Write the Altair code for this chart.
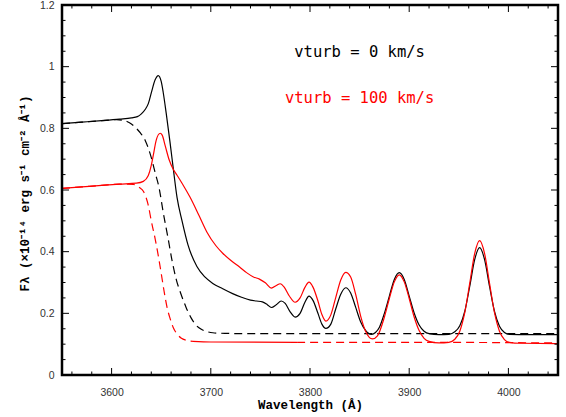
import altair as alt
import pandas as pd

# --- spectra -------------------------------------------------------------
# vturb = 0 km/s, full model (solid black)
WAVE_V0 = [3550, 3570, 3590, 3608, 3620, 3626, 3630, 3634, 3637, 3640, 3644, 3647,
           3650, 3652, 3655, 3659, 3662, 3666, 3671, 3677, 3686, 3694, 3702, 3712,
           3722, 3731, 3740, 3746, 3752, 3757, 3761, 3766, 3771, 3775, 3780, 3785,
           3790, 3795, 3799, 3803, 3808, 3812, 3816, 3821, 3826, 3831, 3836, 3841,
           3846, 3851, 3856, 3862, 3866, 3870, 3875, 3880, 3885, 3890, 3895, 3900,
           3905, 3910, 3915, 3920, 3930, 3940, 3946, 3951, 3956, 3961, 3966, 3971,
           3976, 3981, 3986, 3991, 3996, 4001, 4020, 4050]
FLUX_V0 = [0.815, 0.820, 0.825, 0.830, 0.834, 0.838, 0.847, 0.862, 0.880, 0.915, 0.958, 0.971,
           0.952, 0.917, 0.850, 0.752, 0.674, 0.575, 0.500, 0.422, 0.352, 0.318, 0.297, 0.280,
           0.264, 0.252, 0.243, 0.240, 0.237, 0.228, 0.219, 0.228, 0.240, 0.232, 0.205, 0.188,
           0.200, 0.237, 0.256, 0.242, 0.200, 0.165, 0.151, 0.165, 0.215, 0.262, 0.283, 0.266,
           0.220, 0.173, 0.145, 0.132, 0.138, 0.155, 0.200, 0.256, 0.310, 0.332, 0.310, 0.256,
           0.201, 0.162, 0.142, 0.134, 0.131, 0.132, 0.140, 0.160, 0.206, 0.287, 0.374, 0.413,
           0.374, 0.287, 0.206, 0.158, 0.138, 0.132, 0.131, 0.131]

# vturb = 0 km/s, continuum only (dashed black)
WAVE_V0_CONT = [3550, 3570, 3590, 3605, 3612, 3618, 3624, 3629, 3634, 3640, 3644, 3648,
                3652, 3657, 3661, 3665, 3670, 3675, 3680, 3685, 3690, 3696, 3702, 3715,
                3740, 4050]
FLUX_V0_CONT = [0.815, 0.820, 0.825, 0.828, 0.826, 0.818, 0.803, 0.785, 0.760, 0.705, 0.655, 0.605,
                0.528, 0.442, 0.370, 0.312, 0.262, 0.220, 0.186, 0.162, 0.149, 0.141, 0.137, 0.135,
                0.134, 0.134]

# vturb = 100 km/s, full model (solid red)
WAVE_V100 = [3550, 3570, 3590, 3608, 3625, 3632, 3637, 3640, 3642, 3645, 3649, 3651,
             3654, 3658, 3662, 3666, 3671, 3679, 3688, 3696, 3705, 3712, 3720, 3729,
             3736, 3743, 3749, 3755, 3761, 3766, 3770, 3774, 3779, 3785, 3790, 3795,
             3799, 3803, 3808, 3812, 3816, 3821, 3826, 3831, 3836, 3841, 3846, 3851,
             3856, 3863, 3868, 3875, 3880, 3885, 3890, 3895, 3900, 3905, 3910, 3915,
             3920, 3930, 3940, 3946, 3951, 3956, 3961, 3966, 3971, 3976, 3981, 3986,
             3991, 3996, 4001, 4012, 4050]
FLUX_V100 = [0.605, 0.610, 0.615, 0.619, 0.622, 0.628, 0.647, 0.680, 0.712, 0.762, 0.784, 0.778,
             0.744, 0.698, 0.668, 0.648, 0.622, 0.577, 0.518, 0.464, 0.420, 0.395, 0.372, 0.350,
             0.332, 0.318, 0.311, 0.299, 0.282, 0.290, 0.296, 0.285, 0.257, 0.236, 0.250, 0.285,
             0.301, 0.285, 0.240, 0.196, 0.175, 0.195, 0.252, 0.308, 0.333, 0.318, 0.262, 0.192,
             0.142, 0.117, 0.127, 0.188, 0.248, 0.302, 0.325, 0.302, 0.248, 0.188, 0.144, 0.119,
             0.109, 0.104, 0.106, 0.116, 0.142, 0.202, 0.297, 0.394, 0.436, 0.394, 0.297, 0.202,
             0.142, 0.115, 0.106, 0.103, 0.102]

# vturb = 100 km/s, continuum only (dashed red)
WAVE_V100_CONT = [3550, 3570, 3590, 3608, 3622, 3628, 3632, 3637, 3640, 3644, 3647, 3650,
                  3653, 3656, 3659, 3662, 3666, 3670, 3676, 3682, 3700, 3787, 3800, 3900, 4050]
FLUX_V100_CONT = [0.605, 0.610, 0.615, 0.619, 0.618, 0.608, 0.596, 0.550, 0.500, 0.440, 0.388, 0.330,
                  0.270, 0.218, 0.183, 0.155, 0.133, 0.120, 0.112, 0.109, 0.107, 0.106, 0.106, 0.106, 0.104]

# stretch of the red continuum that is drawn unbroken
RED_CONT_SOLID = (3682, 3787)

# --- axes ----------------------------------------------------------------
X_MAJOR = [3600, 3700, 3800, 3900, 4000]
X_MINOR = [3560, 3580, 3620, 3640, 3660, 3680, 3720, 3740, 3760, 3780, 3820, 3840,
           3860, 3880, 3920, 3940, 3960, 3980, 4020, 4040]
Y_LABELS = [0, 0.2, 0.4, 0.6, 0.8, 1, 1.2]
Y_MAJOR = [0.2, 0.4, 0.6, 0.8, 1.0]
Y_MINOR = [0.05, 0.1, 0.15, 0.25, 0.3, 0.35, 0.45, 0.5, 0.55, 0.65, 0.7, 0.75,
           0.85, 0.9, 0.95, 1.05, 1.1, 1.15]

NOTE_V0 = ["vturb = 0 km/s"]
NOTE_V100 = ["vturb = 100 km/s"]

W, H = 496, 370
BLACK, RED = "#000000", "#ff0000"

xs = alt.Scale(domain=[3550, 4050], nice=False, zero=False)
ys = alt.Scale(domain=[0, 1.2], nice=False, zero=False)


def frame(wave, flux):
    return pd.DataFrame({"wave": wave, "flux": flux})


def line(df, color, dash=None, axes=False):
    kw = dict(color=color, strokeWidth=1.2, interpolate="monotone", clip=True)
    if dash:
        kw["strokeDash"] = dash
    if axes:
        x = alt.X("wave:Q", scale=xs, axis=alt.Axis(
            values=X_MAJOR, format="d", ticks=False, tickSize=0, domain=False, grid=False,
            labelPadding=12, labelFont="Liberation Sans", labelFontSize=10.5, labelColor="#333333",
            title="Wavelength (Å)", titleFont="Liberation Mono", titleFontSize=12.5,
            titleFontWeight="bold", titleColor="black", titleX=W / 2, titleY=29,
            titleAlign="center", titleBaseline="middle"))
        y = alt.Y("flux:Q", scale=ys, axis=alt.Axis(
            values=Y_LABELS, format="~g", ticks=False, tickSize=0, domain=False, grid=False,
            labelPadding=8, labelFont="Liberation Sans", labelFontSize=10.5, labelColor="#333333",
            title="Fλ (×10⁻¹⁴ erg s⁻¹ cm⁻² Å⁻¹)", titleFont="Liberation Mono",
            titleFontSize=12.5, titleFontWeight="bold", titleColor="black",
            titleX=-38, titleY=188, titleAlign="center", titleBaseline="middle"))
    else:
        x = alt.X("wave:Q", scale=xs)
        y = alt.Y("flux:Q", scale=ys)
    return alt.Chart(df).mark_line(**kw).encode(x=x, y=y)


def ticks_x(values, length):
    df = pd.DataFrame({"wave": values})
    base = alt.Chart(df).mark_rule(color="black", strokeWidth=1)
    bottom = base.encode(x=alt.X("wave:Q", scale=xs), y=alt.value(H), y2=alt.value(H - length))
    top = base.encode(x=alt.X("wave:Q", scale=xs), y=alt.value(0), y2=alt.value(length))
    return [bottom, top]


def ticks_y(values, length):
    df = pd.DataFrame({"flux": values})
    base = alt.Chart(df).mark_rule(color="black", strokeWidth=1)
    left = base.encode(y=alt.Y("flux:Q", scale=ys), x=alt.value(0), x2=alt.value(length))
    right = base.encode(y=alt.Y("flux:Q", scale=ys), x=alt.value(W), x2=alt.value(W - length))
    return [left, right]


def box():
    # plot frame: an unfilled rectangle around the data area
    return alt.Chart(pd.DataFrame({"edge": ["frame"]})).mark_rect(
        fill=None, stroke="black", strokeWidth=2.5
    ).encode(x=alt.value(0), x2=alt.value(W), y=alt.value(0), y2=alt.value(H))


def note(text, color, wave, flux):
    return alt.Chart(pd.DataFrame({"label": text})).mark_text(
        font="DejaVu Sans Mono", fontSize=15.5, color=color, align="center", baseline="middle"
    ).encode(x=alt.datum(wave, scale=xs), y=alt.datum(flux, scale=ys), text="label:N")


red_cont = frame(WAVE_V100_CONT, FLUX_V100_CONT)
lo, hi = RED_CONT_SOLID
red_cont_left = red_cont[red_cont.wave <= lo]
red_cont_mid = red_cont[(red_cont.wave >= lo) & (red_cont.wave <= hi)]
red_cont_right = red_cont[red_cont.wave >= hi]

layers = [
    line(frame(WAVE_V0, FLUX_V0), BLACK, axes=True),
    line(frame(WAVE_V0_CONT, FLUX_V0_CONT), BLACK, dash=[8, 5]),
    line(red_cont_left, RED, dash=[8, 5]),
    line(red_cont_mid, RED),
    line(red_cont_right, RED, dash=[8, 5]),
    line(frame(WAVE_V100, FLUX_V100), RED),
    note(NOTE_V0, BLACK, 3850, 1.049),
    note(NOTE_V100, RED, 3850, 0.898),
]
layers += ticks_x(X_MAJOR, 7) + ticks_x(X_MINOR, 3.5)
layers += ticks_y(Y_MAJOR, 7) + ticks_y(Y_MINOR, 3.5)
layers.append(box())

chart = alt.layer(*layers).properties(
    width=W, height=H,
    autosize=alt.AutoSizeParams(type="none"),
    padding={"left": 62, "top": 5, "right": 8, "bottom": 42},
).configure_view(stroke=None).configure(background="white")

chart.save("out.html", embed_options={"renderer": "svg", "actions": False})
